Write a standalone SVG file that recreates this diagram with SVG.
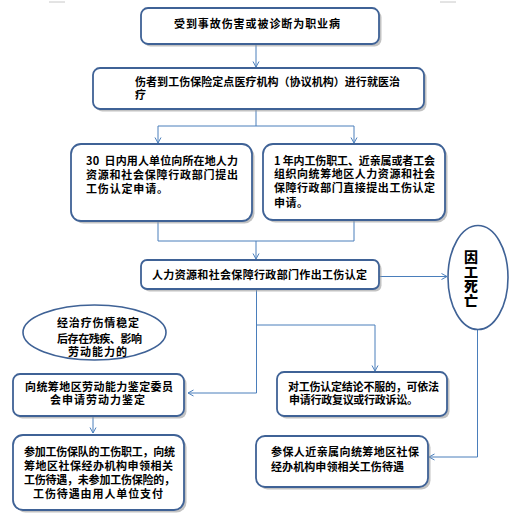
<svg xmlns="http://www.w3.org/2000/svg" width="519" height="524" viewBox="0 0 519 524">
<defs>
<marker id="ah" markerUnits="userSpaceOnUse" markerWidth="8" markerHeight="8" refX="6" refY="3.5" orient="auto">
<path d="M0.5,0.5 L6,3.5 L0.5,6.5" fill="none" stroke="#4a7ebb" stroke-width="1"/>
</marker>
</defs>
<style>
.box{fill:#ffffff;stroke:#3f6296;stroke-width:1.8}
.sh{fill:#9a9a9a;opacity:0.6}
.ell{fill:#ffffff;stroke:#3f6296;stroke-width:1.6}
.t{font-family:"Noto Sans CJK SC","Liberation Sans",sans-serif;font-size:11px;font-weight:bold;fill:#000000}
.v{font-family:"Noto Sans CJK SC","Liberation Sans",sans-serif;font-size:14px;font-weight:900;fill:#000000;writing-mode:vertical-rl;letter-spacing:0.4px}
.c{stroke:#4a7ebb;stroke-width:1;fill:none}
.m{stroke:#c8c8c8;stroke-width:1}
</style>
<rect width="519" height="524" fill="#ffffff"/>
<line class="m" x1="49" y1="2" x2="65" y2="2"/>
<line class="m" x1="440" y1="2" x2="456" y2="2"/>

<g id="connectors">
<path class="c" d="M256,44 V67" marker-end="url(#ah)"/>
<path class="c" d="M256,109 V126 M158,126 H354"/>
<path class="c" d="M158,126 V143" marker-end="url(#ah)"/>
<path class="c" d="M354,126 V143" marker-end="url(#ah)"/>
<path class="c" d="M158,221 V241 H354 V220"/>
<path class="c" d="M256,241 V259" marker-end="url(#ah)"/>
<path class="c" d="M379,276.5 H447" marker-end="url(#ah)"/>
<path class="c" d="M256.5,290 V393 H188" marker-end="url(#ah)"/>
<path class="c" d="M256.5,325 H375 V371" marker-end="url(#ah)"/>
<path class="c" d="M477.5,330 V457 H429" marker-end="url(#ah)"/>
<path class="c" d="M93,416 V433" marker-end="url(#ah)"/>
</g>

<g id="n1">
<rect class="sh" x="143.5" y="10.5" width="238" height="36" rx="7"/>
<rect class="box" x="141" y="8" width="238" height="36" rx="7"/>
<text class="t" x="174" y="27.5" textLength="166" lengthAdjust="spacing">受到事故伤害或被诊断为职业病</text>
</g>

<g id="n2">
<rect class="sh" x="95.5" y="70.5" width="331" height="41" rx="7"/>
<rect class="box" x="93" y="68" width="331" height="41" rx="7"/>
<text class="t"><tspan x="135" y="85.5" textLength="265" lengthAdjust="spacing">伤者到工伤保险定点医疗机构（协议机构）进行就医治</tspan><tspan x="135" y="98.5">疗</tspan></text>
</g>

<g id="n3">
<rect class="sh" x="73.5" y="146.5" width="181" height="77" rx="10"/>
<rect class="box" x="71" y="144" width="181" height="77" rx="10"/>
<text class="t"><tspan x="86" y="165" textLength="152" lengthAdjust="spacing">30&#160;&#160;日内用人单位向所在地人力</tspan><tspan x="86" y="179" textLength="152" lengthAdjust="spacing">资源和社会保障行政部门提出</tspan><tspan x="86" y="193" textLength="82" lengthAdjust="spacing">工伤认定申请。</tspan></text>
</g>

<g id="n4">
<rect class="sh" x="265.5" y="146.5" width="182" height="76" rx="10"/>
<rect class="box" x="263" y="144" width="182" height="76" rx="10"/>
<text class="t"><tspan x="274" y="164.5" textLength="161" lengthAdjust="spacing">1 年内工伤职工、近亲属或者工会</tspan><tspan x="274" y="178" textLength="161" lengthAdjust="spacing">组织向统筹地区人力资源和社会</tspan><tspan x="274" y="192" textLength="161" lengthAdjust="spacing">保障行政部门直接提出工伤认定</tspan><tspan x="274" y="206.5" textLength="34" lengthAdjust="spacing">申请。</tspan></text>
</g>

<g id="n5">
<rect class="sh" x="143.5" y="262.5" width="238" height="29" rx="6"/>
<rect class="box" x="141" y="260" width="238" height="29" rx="6"/>
<text class="t" x="152" y="279" textLength="215" lengthAdjust="spacing">人力资源和社会保障行政部门作出工伤认定</text>
</g>

<g id="n6">
<ellipse class="ell" cx="478" cy="277.5" rx="30" ry="52"/>
<text class="v" x="471" y="250">因工死亡</text>
</g>

<g id="n7">
<ellipse class="ell" cx="94.5" cy="332.5" rx="71.5" ry="27.5"/>
<text class="t"><tspan x="57" y="327" textLength="82" lengthAdjust="spacing">经治疗伤情稳定</tspan><tspan x="57" y="342.5" textLength="85" lengthAdjust="spacing">后存在残疾、影响</tspan><tspan x="68" y="356" textLength="59" lengthAdjust="spacing">劳动能力的</tspan></text>
</g>

<g id="n8">
<rect class="sh" x="15.5" y="376.5" width="171" height="42" rx="7"/>
<rect class="box" x="13" y="374" width="171" height="42" rx="7"/>
<text class="t"><tspan x="25" y="391" textLength="148" lengthAdjust="spacing">向统筹地区劳动能力鉴定委员</tspan><tspan x="50" y="404" textLength="95" lengthAdjust="spacing">会申请劳动力鉴定</tspan></text>
</g>

<g id="n9">
<rect class="sh" x="15.5" y="437.5" width="171" height="75" rx="10"/>
<rect class="box" x="13" y="435" width="171" height="75" rx="10"/>
<text class="t"><tspan x="24" y="456" textLength="151" lengthAdjust="spacing">参加工伤保队的工伤职工，向统</tspan><tspan x="24" y="470" textLength="149" lengthAdjust="spacing">筹地区社保经办机构申领相关</tspan><tspan x="24" y="484" textLength="151" lengthAdjust="spacing">工伤待遇，未参加工伤保险的，</tspan><tspan x="33" y="497.5" textLength="130" lengthAdjust="spacing">工伤待遇由用人单位支付</tspan></text>
</g>

<g id="n10">
<rect class="sh" x="279.5" y="374.5" width="170" height="44" rx="7"/>
<rect class="box" x="277" y="372" width="170" height="44" rx="7"/>
<text class="t"><tspan x="288" y="391" textLength="151" lengthAdjust="spacing">对工伤认定结论不服的，可依法</tspan><tspan x="289" y="404" textLength="129" lengthAdjust="spacing">申请行政复议或行政诉讼。</tspan></text>
</g>

<g id="n11">
<rect class="sh" x="258.5" y="438.5" width="172" height="51" rx="9"/>
<rect class="box" x="256" y="436" width="172" height="51" rx="9"/>
<text class="t"><tspan x="271" y="456" textLength="148" lengthAdjust="spacing">参保人近亲属向统筹地区社保</tspan><tspan x="271" y="471" textLength="133" lengthAdjust="spacing">经办机构申领相关工伤待遇</tspan></text>
</g>
</svg>
